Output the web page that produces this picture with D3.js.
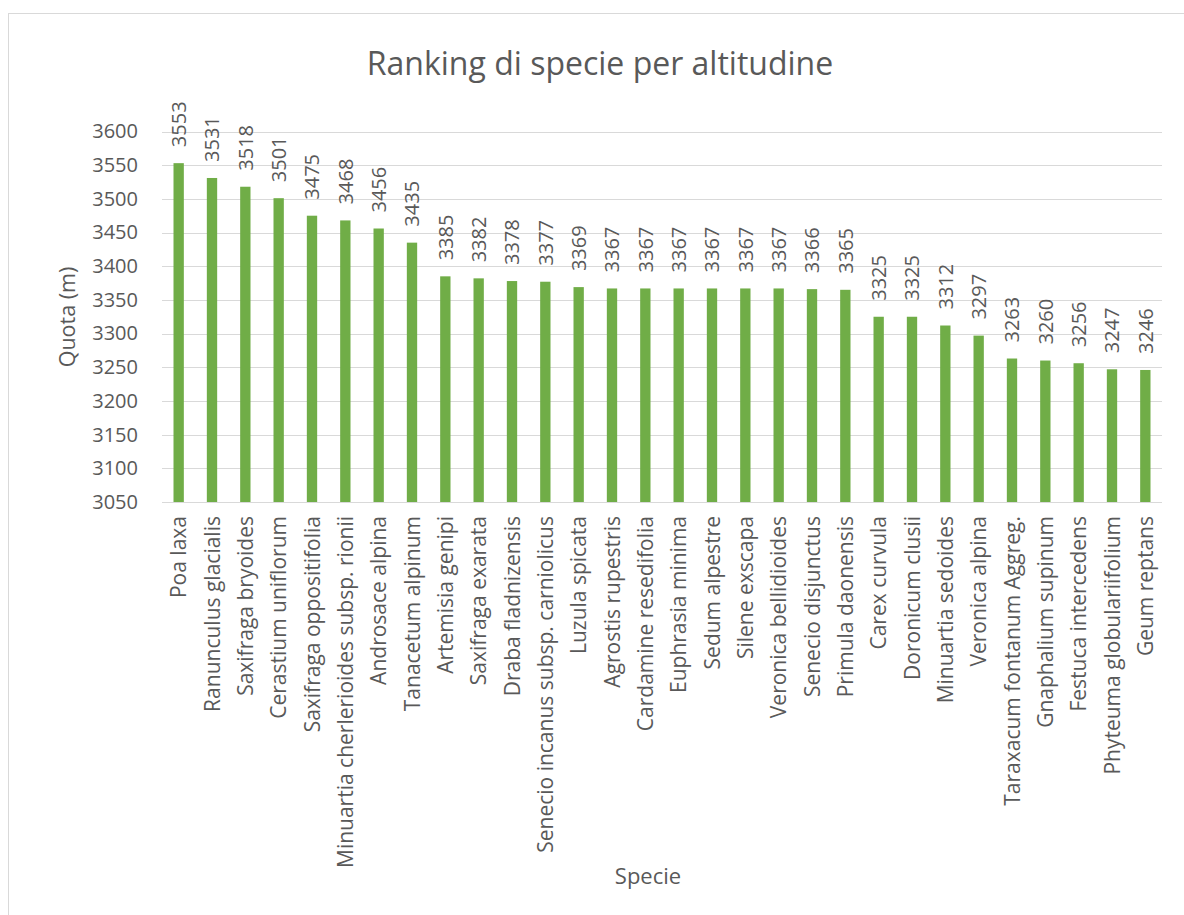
<!DOCTYPE html>
<html><head><meta charset="utf-8">
<script src="https://cdn.jsdelivr.net/npm/d3@7"></script>
<style>body{margin:0;background:#fff}svg{display:block}text{font-family:"Open Sans",Lato,sans-serif;fill:#595959}</style>
</head><body>
<svg id="c" width="1184" height="915"></svg>
<script>
const species = ["Poa laxa","Ranunculus glacialis","Saxifraga bryoides","Cerastium uniflorum","Saxifraga oppositifolia","Minuartia cherlerioides subsp. rionii","Androsace alpina","Tanacetum alpinum","Artemisia genipi","Saxifraga exarata","Draba fladnizensis","Senecio incanus subsp. carniolicus","Luzula spicata","Agrostis rupestris","Cardamine resedifolia","Euphrasia minima","Sedum alpestre","Silene exscapa","Veronica bellidioides","Senecio disjunctus","Primula daonensis","Carex curvula","Doronicum clusii","Minuartia sedoides","Veronica alpina","Taraxacum fontanum Aggreg.","Gnaphalium supinum","Festuca intercedens","Phyteuma globulariifolium","Geum reptans"];
const quota = [3553,3531,3518,3501,3475,3468,3456,3435,3385,3382,3378,3377,3369,3367,3367,3367,3367,3367,3367,3366,3365,3325,3325,3312,3297,3263,3260,3256,3247,3246];
const yTicks = [3050,3100,3150,3200,3250,3300,3350,3400,3450,3500,3550,3600];
const title = "Ranking di specie per altitudine";
const yTitle = "Quota (m)";
const xTitle = "Specie";

const F = "Open Sans";
const svg = d3.select("#c");
svg.append("rect").attr("x",8.5).attr("y",13.5).attr("width",1300).attr("height",1000)
  .attr("fill","none").attr("stroke","#d9d9d9").attr("stroke-width",1);

const L=162, R=1162, T=131.5, B=502;
const x = d3.scaleBand().domain(species).range([L,R]).paddingInner(0.69).paddingOuter(0.345);
const y = d3.scaleLinear().domain([3050,3600]).range([B,T]);

const g = svg.append("g");
g.selectAll("line.grid").data(yTicks).join("line")
  .attr("x1",L).attr("x2",R).attr("y1",d=>Math.round(y(d))+0.5).attr("y2",d=>Math.round(y(d))+0.5)
  .attr("stroke","#d9d9d9").attr("stroke-width",1);

const yAxis = d3.axisLeft(y).tickValues(yTicks).tickSize(0).tickPadding(0).tickFormat(d3.format("d"));
const ya = svg.append("g").attr("transform",`translate(138,0)`).call(yAxis);
ya.select(".domain").remove();
ya.selectAll("text").attr("font-size",20).attr("fill","#595959").style("font-family",F);

g.selectAll("rect.bar").data(quota).join("rect")
  .attr("x",(d,i)=>x(species[i])).attr("width",x.bandwidth())
  .attr("y",d=>y(d)).attr("height",d=>B-y(d)).attr("fill","#70AD47");

g.selectAll("text.lbl").data(quota).join("text")
  .attr("transform",(d,i)=>`translate(${x(species[i])+x.bandwidth()/2},${y(d)-16}) rotate(-90)`)
  .attr("dy","0.36em").attr("font-size",20).text(d=>d);

const xAxis = d3.axisBottom(x).tickSize(0).tickPadding(0);
const xa = svg.append("g").attr("transform",`translate(0,${B})`).call(xAxis);
xa.select(".domain").remove();
xa.selectAll("text").attr("font-size",21).attr("fill","#595959").style("font-family",F)
  .attr("text-anchor","end").attr("transform","translate(0,14) rotate(-90)").attr("x",0).attr("y",0).attr("dy","0.36em");

svg.append("text").attr("x",600).attr("y",75).attr("text-anchor","middle").attr("font-size",32).text(title);
svg.append("text").attr("transform","translate(75,317) rotate(-90)").attr("text-anchor","middle").attr("font-size",21.5).text(yTitle);
svg.append("text").attr("x",648).attr("y",884).attr("text-anchor","middle").attr("font-size",22).text(xTitle);
</script>
</body></html>
